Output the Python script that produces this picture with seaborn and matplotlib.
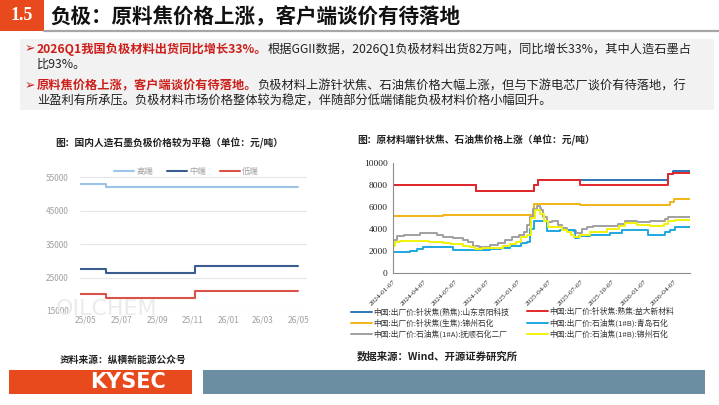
import pandas as pd
import matplotlib
matplotlib.use("Agg")
import matplotlib.pyplot as plt
import matplotlib.dates as mdates
from matplotlib.patches import Rectangle
from matplotlib.lines import Line2D
import seaborn as sns

# ---------------- data: left chart (artificial graphite anode price) ----------------
grade_names = ["高端", "中端", "低端"]
grade_dates = ["2025-04-21", "2025-06-05", "2025-11-05", "2026-05-01"]
high_end = [53000, 52000, 52000, 52000]
mid_end = [27500, 26500, 28500, 28500]
low_end = [20000, 19000, 21000, 21000]
left_xticks = ["2025-05-01", "2025-07-01", "2025-09-01", "2025-11-01",
               "2026-01-01", "2026-03-01", "2026-05-01"]
left_yticks = [15000, 25000, 35000, 45000, 55000]

# ---------------- data: right chart (needle coke / petroleum coke) ----------------
s_jingyang = "中国:出厂价:针状焦(熟焦):山东京阳科技"
s_yida = "中国:出厂价:针状焦:熟焦:益大新材料"
s_jz_green = "中国:出厂价:针状焦(生焦):锦州石化"
s_qingdao = "中国:出厂价:石油焦(1#B):青岛石化"
s_fushun = "中国:出厂价:石油焦(1#A):抚顺石化二厂"
s_jz_pet = "中国:出厂价:石油焦(1#B):锦州石化"

jingyang_dates = ["2024-01-07", "2024-09-06", "2025-02-22", "2025-03-04",
                  "2026-03-19", "2026-04-01", "2026-05-22"]
jingyang_vals = [8000, 7500, 8000, 8500, 9000, 9300, 9300]

yida_dates = ["2024-01-07", "2024-09-06", "2025-02-22", "2025-03-04", "2025-07-04",
              "2026-03-19", "2026-04-01", "2026-05-22"]
yida_vals = [8000, 7500, 8000, 8500, 8000, 9000, 9100, 9100]

jz_green_dates = ["2024-01-07", "2024-06-01", "2025-02-22", "2025-07-04",
                  "2026-03-25", "2026-04-05", "2026-05-22"]
jz_green_vals = [5150, 5300, 6300, 6200, 6450, 6750, 6750]

qingdao_dates = ["2024-01-07", "2024-02-25", "2024-03-16", "2024-04-04", "2024-06-30",
                 "2024-10-16", "2024-11-16", "2024-12-13", "2025-01-13", "2025-01-31",
                 "2025-02-10", "2025-02-22", "2025-03-31", "2025-05-07", "2025-06-22",
                 "2025-07-01", "2025-08-04", "2025-10-01", "2025-11-04", "2026-01-19",
                 "2026-03-10", "2026-03-25", "2026-04-07", "2026-05-22"]
qingdao_vals = [1950, 2000, 2150, 2350, 2100,
                2200, 2300, 2500, 2700, 2800,
                4000, 4700, 3850, 3950, 3150,
                3350, 3450, 3650, 3900, 3450,
                3750, 3950, 4150, 4150]

fushun_dates = ["2024-01-07", "2024-01-19", "2024-02-07", "2024-03-25", "2024-05-13",
                "2024-06-01", "2024-06-30", "2024-07-28", "2024-08-13", "2024-08-28",
                "2024-09-13", "2024-10-16", "2024-11-07", "2024-11-28", "2024-12-19",
                "2025-01-07", "2025-01-22", "2025-01-31", "2025-02-10", "2025-02-19",
                "2025-03-01", "2025-03-10", "2025-03-13", "2025-03-19", "2025-03-31",
                "2025-04-16", "2025-05-01", "2025-05-13", "2025-05-28", "2025-06-16",
                "2025-06-25", "2025-07-10", "2025-07-25", "2025-08-13", "2025-10-25",
                "2025-11-13", "2025-12-19", "2026-01-25", "2026-03-10", "2026-03-19",
                "2026-05-22"]
fushun_vals = [3000, 3350, 3500, 3600, 3450,
               3300, 3150, 3000, 2800, 2500,
               2350, 2550, 2700, 3000, 3300,
               3500, 3750, 4350, 5100, 5850,
               6050, 5900, 5700, 5100, 4650,
               4700, 4350, 4050, 3900, 3800,
               3600, 4000, 4200, 4300, 4500,
               4700, 4650, 4700, 4950, 5100,
               5100]

jz_pet_dates = ["2024-01-07", "2024-01-13", "2024-01-28", "2024-04-22", "2024-06-01",
                "2024-06-25", "2024-07-28", "2024-08-19", "2024-09-01", "2024-09-22",
                "2024-10-22", "2024-11-22", "2024-12-13", "2025-01-01", "2025-01-13",
                "2025-01-31", "2025-02-13", "2025-02-25", "2025-03-10", "2025-03-22",
                "2025-04-03", "2025-05-13", "2025-05-28", "2025-06-10", "2025-06-19",
                "2025-07-04", "2025-08-04", "2025-09-22", "2025-10-28", "2025-11-13",
                "2025-12-19", "2026-01-25", "2026-03-07", "2026-03-19", "2026-04-07",
                "2026-05-22"]
jz_pet_vals = [2500, 2800, 2900, 2800, 2700,
               2600, 2500, 2350, 2150, 2250,
               2300, 2450, 2600, 2800, 3300,
               3500, 5000, 5700, 5400, 4700,
               4200, 3900, 3700, 3450, 3300,
               3500, 3700, 4000, 4300, 4550,
               4400, 4300, 4450, 4700, 4850,
               4850]

right_xticks = ["2024-01-07", "2024-04-07", "2024-07-07", "2024-10-07", "2025-01-07",
                "2025-04-07", "2025-07-07", "2025-10-07", "2026-01-07", "2026-04-07"]
right_yticks = [0, 2000, 4000, 6000, 8000, 10000]

# ---------------- styling ----------------
sns.set_theme(style="white")
plt.rcParams['font.family'] = ['Noto Sans CJK SC', 'DejaVu Sans']
plt.rcParams['axes.unicode_minus'] = False

W, H = 719, 405
RED = "#cc1f1a"
ORANGE = "#e8491d"


def fx(x):
    return x / W


def fy(y):
    return 1 - y / H


fig = plt.figure(figsize=(W / 100, H / 100), dpi=100)
fig.patch.set_facecolor("white")
renderer = fig.canvas.get_renderer()

# header
fig.add_artist(Rectangle((0, fy(31)), fx(44), 31 / H, transform=fig.transFigure,
                         facecolor=ORANGE, edgecolor="none"))
fig.text(fx(22), fy(16), "1.5", color="white", fontsize=13, fontweight="bold",
         family="Liberation Serif", ha="center", va="center")
fig.text(fx(50), fy(17), "负极：原料焦价格上涨，客户端谈价有待落地", fontsize=14.8,
         fontweight="bold", ha="left", va="center", color="#111111")
fig.add_artist(Line2D([fx(44), 1], [fy(31), fy(31)], transform=fig.transFigure,
                      color="#a6a6a6", lw=1.6))

# bullet box
fig.add_artist(Rectangle((fx(20), fy(110)), fx(694), 71 / H, transform=fig.transFigure,
                         facecolor="#f2f2f2", edgecolor="none"))


def rich(x, y, parts, size=8.8):
    cur = x
    for s, color, weight in parts:
        t = fig.text(fx(cur), fy(y), s, color=color, fontsize=size, fontweight=weight,
                     ha="left", va="center")
        cur += t.get_window_extent(renderer=renderer).width


fig.text(fx(25), fy(49), "➢", color=RED, fontsize=9, ha="left", va="center",
         family=["DejaVu Sans"])
rich(37, 49, [("2026Q1我国负极材料出货同比增长33%。", RED, "bold"),
              ("根据GGII数据，2026Q1负极材料出货82万吨，同比增长33%，其中人造石墨占", "#222222", "normal")])
rich(37, 64, [("比93%。", "#222222", "normal")])
fig.text(fx(25), fy(86), "➢", color=RED, fontsize=9, ha="left", va="center",
         family=["DejaVu Sans"])
rich(37, 86, [("原料焦价格上涨，客户端谈价有待落地。", RED, "bold"),
              ("负极材料上游针状焦、石油焦价格大幅上涨，但与下游电芯厂谈价有待落地，行", "#222222", "normal")])
rich(37, 101, [("业盈利有所承压。负极材料市场价格整体较为稳定，伴随部分低端储能负极材料价格小幅回升。",
                "#222222", "normal")])

# ---------------- left chart ----------------
left_df = pd.concat([
    pd.DataFrame({"date": pd.to_datetime(grade_dates), "price": vals, "grade": name})
    for name, vals in zip(grade_names, [high_end, mid_end, low_end])
])
left_colors = {"高端": "#9dc3e6", "中端": "#3b5c8f", "低端": "#d9534a"}

fig.text(fx(169), fy(143), "图：国内人造石墨负极价格较为平稳（单位：元/吨）", fontsize=7,
         fontweight="bold", ha="center", va="center", color="#222222")
fig.text(fx(56), fy(309), "OILCHEM", fontsize=16, color="#ebebeb", ha="left", va="center",
         family="DejaVu Sans", zorder=0)

ax1 = fig.add_axes([fx(80), fy(311), 227 / W, 142 / H])
ax1.patch.set_alpha(0)
sns.lineplot(data=left_df, x="date", y="price", hue="grade", hue_order=grade_names,
             palette=left_colors, drawstyle="steps-post", linewidth=1.5, ax=ax1,
             legend=False)
ax1.set_ylim(15000, 57500)
ax1.set_yticks(left_yticks)
ax1.set_xlim(pd.Timestamp("2025-04-21"), pd.Timestamp("2026-05-16"))
ax1.set_xticks(pd.to_datetime(left_xticks))
ax1.xaxis.set_major_formatter(mdates.DateFormatter("%y/%m"))
ax1.grid(axis="y", color="#e6e6e6", lw=0.8)
for sp in ax1.spines.values():
    sp.set_visible(False)
ax1.tick_params(length=0, labelsize=6, labelcolor="#a0a0a0", pad=3)
ax1.tick_params(axis="y", pad=8)
ax1.set_xlabel("")
ax1.set_ylabel("")
left_handles = [Line2D([], [], color=left_colors[n], lw=1.5) for n in grade_names]
ax1.legend(left_handles, grade_names, loc="lower center", bbox_to_anchor=(0.47, 0.9),
           ncol=3, frameon=False, fontsize=6, labelcolor="#a0a0a0", handlelength=2.4,
           handletextpad=0.3, columnspacing=1.6)

fig.text(fx(60), fy(360), "资料来源：纵横新能源公众号", fontsize=7, fontweight="bold",
         ha="left", va="center", color="#222222")

# ---------------- right chart ----------------
right_series = [
    (s_jingyang, jingyang_dates, jingyang_vals, "#2e75b6"),
    (s_jz_green, jz_green_dates, jz_green_vals, "#f2b418"),
    (s_fushun, fushun_dates, fushun_vals, "#a0a0a0"),
    (s_yida, yida_dates, yida_vals, "#e3262b"),
    (s_qingdao, qingdao_dates, qingdao_vals, "#1ea7e1"),
    (s_jz_pet, jz_pet_dates, jz_pet_vals, "#f2f20a"),
]
right_df = pd.concat([
    pd.DataFrame({"date": pd.to_datetime(d), "price": v, "series": n})
    for n, d, v, c in right_series
])
right_colors = {n: c for n, d, v, c in right_series}
draw_order = [s_jingyang, s_yida, s_jz_green, s_fushun, s_qingdao, s_jz_pet]

fig.text(fx(357), fy(140), "图：原材料端针状焦、石油焦价格上涨（单位：元/吨）", fontsize=7,
         fontweight="bold", ha="left", va="center", color="#222222")

ax2 = fig.add_axes([fx(393), fy(273), 297 / W, 110 / H])
ax2.patch.set_alpha(0)
sns.lineplot(data=right_df, x="date", y="price", hue="series", hue_order=draw_order,
             palette=right_colors, drawstyle="steps-post", linewidth=1.4, ax=ax2,
             legend=False)
ax2.set_ylim(0, 10000)
ax2.set_yticks(right_yticks)
ax2.set_xlim(pd.Timestamp("2024-01-07"), pd.Timestamp("2026-05-22"))
ax2.set_xticks(pd.to_datetime(right_xticks))
ax2.xaxis.set_major_formatter(mdates.DateFormatter("%Y-%m-%d"))
for lab in ax2.get_xticklabels():
    lab.set_rotation(45)
    lab.set_ha("right")
    lab.set_rotation_mode("anchor")
    lab.set_family("Liberation Serif")
    lab.set_fontsize(5.3)
for lab in ax2.get_yticklabels():
    lab.set_family("Liberation Serif")
    lab.set_fontsize(6.8)
ax2.spines["top"].set_visible(False)
ax2.spines["right"].set_visible(False)
for side in ["left", "bottom"]:
    ax2.spines[side].set_color("#8c8c8c")
    ax2.spines[side].set_linewidth(0.8)
ax2.tick_params(direction="out", length=2, width=0.6, color="#8c8c8c",
                labelcolor="#222222", pad=2)
ax2.set_xlabel("")
ax2.set_ylabel("")

# two-column legend below right chart
col1 = right_series[:3]
col2 = right_series[3:]
for cols, x0 in [(col1, 351), (col2, 527)]:
    hs = [Line2D([], [], color=c, lw=1.4) for n, d, v, c in cols]
    fig.legend(hs, [n for n, d, v, c in cols], loc="upper left",
               bbox_to_anchor=(fx(x0), fy(308)), frameon=False, fontsize=5.6,
               handlelength=2.7, handletextpad=0.2, labelspacing=0.35,
               borderpad=0, borderaxespad=0, labelcolor="#333333")

fig.text(fx(357), fy(356), "数据来源：Wind、开源证券研究所", fontsize=7.5, fontweight="bold",
         ha="left", va="center", color="#222222")

# footer bars
fig.add_artist(Rectangle((fx(9), fy(394)), fx(183), 24 / H, transform=fig.transFigure,
                         facecolor=ORANGE, edgecolor="none"))
fig.text(fx(128), fy(382), "KYSEC", color="white", fontsize=15, fontweight="bold",
         family="DejaVu Sans", ha="center", va="center")
fig.add_artist(Rectangle((fx(203), fy(394)), fx(502), 24 / H, transform=fig.transFigure,
                         facecolor="#6b8ea3", edgecolor="none"))

fig.savefig("out.png", dpi=100)
